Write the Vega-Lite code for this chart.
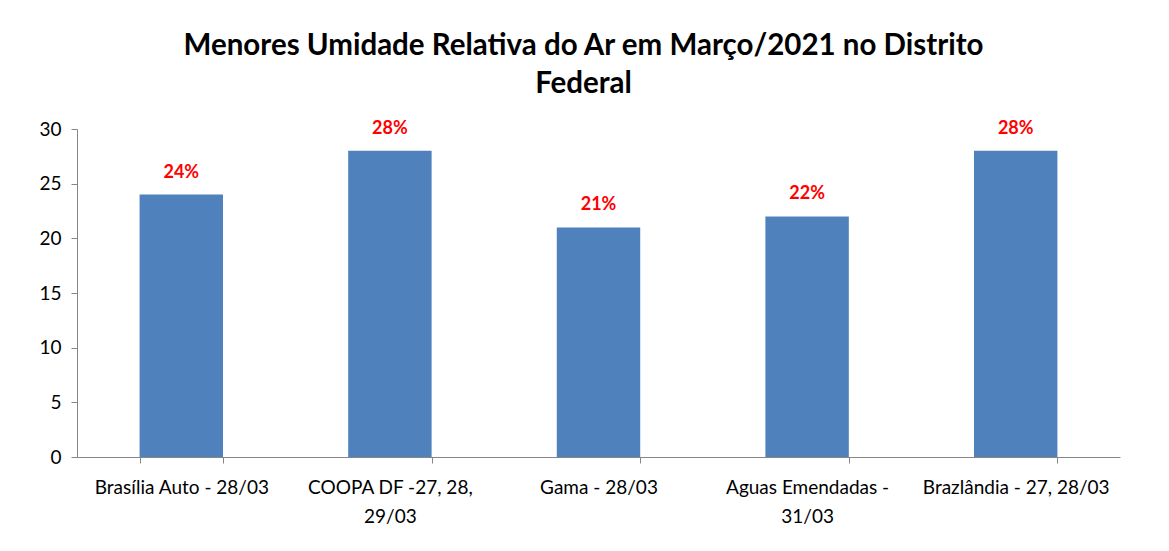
{
  "$schema": "https://vega.github.io/schema/vega-lite/v6.json",
  "autosize": {"type": "none"},
  "width": 1043,
  "height": 328,
  "padding": {"left": 77, "top": 129, "right": 49, "bottom": 94},
  "background": "white",
  "title": {
    "text": ["Menores Umidade Relativa do Ar em Março/2021 no Distrito", "Federal"],
    "font": "Lato",
    "fontSize": 29.5,
    "fontWeight": "bold",
    "color": "#000000",
    "lineHeight": 38,
    "anchor": "middle",
    "frame": "group",
    "offset": 20,
    "dx": -15
  },
  "data": {
    "values": [
      {"local": "Brasília Auto - 28/03", "umidade": 24, "rotulo": "24%"},
      {"local": "COOPA DF -27, 28, 29/03", "umidade": 28, "rotulo": "28%"},
      {"local": "Gama - 28/03", "umidade": 21, "rotulo": "21%"},
      {"local": "Aguas Emendadas - 31/03", "umidade": 22, "rotulo": "22%"},
      {"local": "Brazlândia - 27, 28/03", "umidade": 28, "rotulo": "28%"}
    ]
  },
  "encoding": {
    "x": {
      "field": "local",
      "type": "nominal",
      "sort": null,
      "scale": {"paddingInner": 0.6, "paddingOuter": 0.3},
      "axis": {
        "title": null,
        "labelAngle": 0,
        "labelFont": "Lato",
        "labelFontSize": 19,
        "labelColor": "#000000",
        "labelPadding": 15,
        "labelLineHeight": 29,
        "labelLimit": 300,
        "tickBand": "extent",
        "tickSize": 6,
        "tickColor": "#868686",
        "domainColor": "#868686",
        "labelExpr": "datum.label == 'COOPA DF -27, 28, 29/03' ? ['COOPA DF -27, 28,', '29/03'] : datum.label == 'Aguas Emendadas - 31/03' ? ['Aguas Emendadas -', '31/03'] : datum.label"
      }
    },
    "y": {
      "field": "umidade",
      "type": "quantitative",
      "scale": {"domain": [0, 30]},
      "axis": {
        "title": null,
        "values": [0, 5, 10, 15, 20, 25, 30],
        "grid": false,
        "labelFont": "Lato",
        "labelFontSize": 19,
        "labelColor": "#000000",
        "labelPadding": 10,
        "tickSize": 6,
        "tickColor": "#868686",
        "domainColor": "#868686"
      }
    }
  },
  "layer": [
    {"mark": {"type": "bar", "color": "#4F81BD"}},
    {
      "mark": {"type": "text", "color": "#FF0000", "font": "Lato", "fontWeight": "bold", "fontSize": 18, "baseline": "bottom", "dy": -13},
      "encoding": {"text": {"field": "rotulo", "type": "nominal"}}
    }
  ],
  "config": {"view": {"stroke": null}}
}
